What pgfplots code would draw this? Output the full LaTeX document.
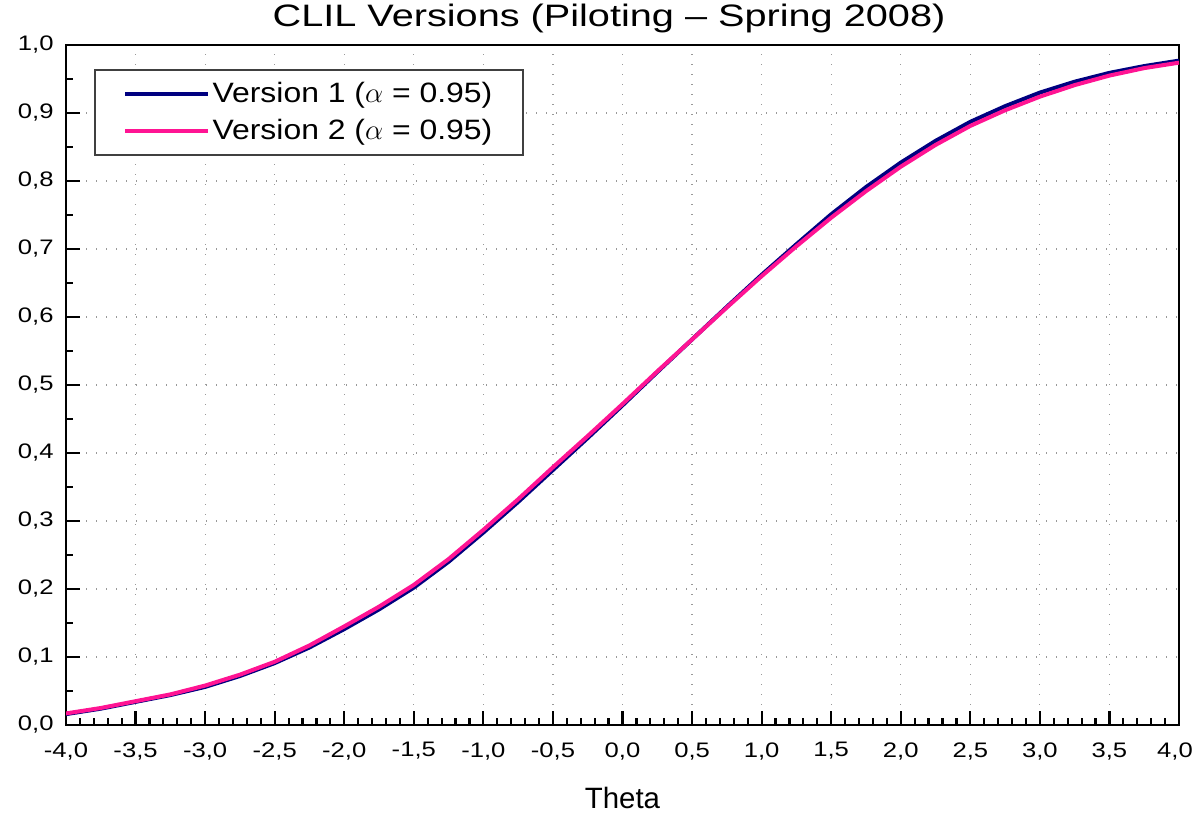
\documentclass[border=0pt]{standalone}
\usepackage{fontspec}
\setmainfont{Liberation Sans}
\newfontfamily\tickfont[FakeStretch=1.22]{Liberation Sans}
\newfontfamily\titlefont[FakeStretch=1.28]{Liberation Sans}
\newfontfamily\legfont[FakeStretch=1.14]{Liberation Sans}
\usepackage{pgfplots}
\pgfplotsset{compat=1.18}
\definecolor{vnavy}{RGB}{0,0,128}
\definecolor{vpink}{RGB}{255,20,147}
\begin{document}
\begin{tikzpicture}
\begin{axis}[
  at={(0,0)}, anchor=south west,
  width=556.5pt, height=340pt, scale only axis,
  xmin=-4, xmax=4, ymin=0, ymax=1,
  xtick={-4,-3.5,-3,-2.5,-2,-1.5,-1,-0.5,0,0.5,1,1.5,2,2.5,3,3.5,4},
  xticklabels={{-4,0},{-3,5},{-3,0},{-2,5},{-2,0},{-1,5},{-1,0},{-0,5},{0,0},{0,5},{1,0},{1,5},{2,0},{2,5},{3,0},{3,5},{\hspace*{-4pt}4,0}},
  ytick={0,0.1,0.2,0.3,0.4,0.5,0.6,0.7,0.8,0.9,1},
  minor x tick num=4, minor y tick num=1,
  xtick pos=left, ytick pos=left,
  tick align=inside,
  major tick length=7pt, minor tick length=3.5pt,
  tick style={black, line width=1.1pt},
  axis line style={line width=1.4pt},
  grid=major,
  major grid style={gray!80, line width=0.6pt, dash pattern=on 0.6pt off 4.4pt},
  ticklabel style={font=\tickfont\fontsize{10.5}{12}\selectfont, inner sep=0pt},
  yticklabel style={xshift=-6pt},
  xticklabel style={yshift=-8.5pt},
  /pgf/number format/.cd, use comma, fixed, fixed zerofill, precision=1, assume math mode=true,
  /pgfplots/.cd,
  xlabel={Theta},
  xlabel style={at={(axis description cs:0.5,0)}, anchor=north, yshift=-31pt, inner sep=0pt, font=\fontsize{14.7}{17}\selectfont},
  title={CLIL Versions (Piloting – Spring 2008)},
  every axis title/.style={at={(axis description cs:0.4879,1)}, anchor=base, yshift=9pt, inner sep=0pt, font=\titlefont\fontsize{15.5}{18}\selectfont},
  legend style={at={(0.0252,0.9647)}, anchor=north west, draw=black!75, line width=1pt, fill=white,
    inner xsep=14pt, inner ysep=6pt, row sep=7.2pt,
    font=\legfont\fontsize{14}{16}\selectfont,
    nodes={inner xsep=1.25pt, inner ysep=0pt}},
  legend cell align=left,
  legend image code/.code={\draw[#1] (0pt,0pt) -- (41.5pt,0pt);},
]
\addplot[vnavy, line width=2pt] table {
x y
-4.00 0.016
-3.75 0.024
-3.50 0.034
-3.25 0.044
-3.00 0.056
-2.75 0.072
-2.50 0.091
-2.25 0.114
-2.00 0.141
-1.75 0.170
-1.50 0.202
-1.25 0.240
-1.00 0.283
-0.75 0.328
-0.50 0.375
-0.25 0.422
0.00 0.470
0.25 0.519
0.50 0.567
0.75 0.615
1.00 0.662
1.25 0.707
1.50 0.751
1.75 0.791
2.00 0.827
2.25 0.859
2.50 0.887
2.75 0.910
3.00 0.930
3.25 0.946
3.50 0.959
3.75 0.969
4.00 0.977
};
\addlegendentry{Version 1 ($\alpha$ = 0.95)}
\addplot[vpink, line width=2pt] table {
x y
-4.00 0.017
-3.75 0.025
-3.50 0.035
-3.25 0.045
-3.00 0.058
-2.75 0.074
-2.50 0.093
-2.25 0.117
-2.00 0.145
-1.75 0.174
-1.50 0.206
-1.25 0.244
-1.00 0.287
-0.75 0.332
-0.50 0.379
-0.25 0.425
0.00 0.472
0.25 0.520
0.50 0.567
0.75 0.614
1.00 0.660
1.25 0.704
1.50 0.746
1.75 0.785
2.00 0.821
2.25 0.853
2.50 0.881
2.75 0.904
3.00 0.924
3.25 0.941
3.50 0.955
3.75 0.966
4.00 0.974
};
\addlegendentry{Version 2 ($\alpha$ = 0.95)}
\end{axis}
\pgfresetboundingbox
\path[use as bounding box] (-33pt,-44pt) rectangle (564pt,362.5pt);
\end{tikzpicture}
\end{document}
